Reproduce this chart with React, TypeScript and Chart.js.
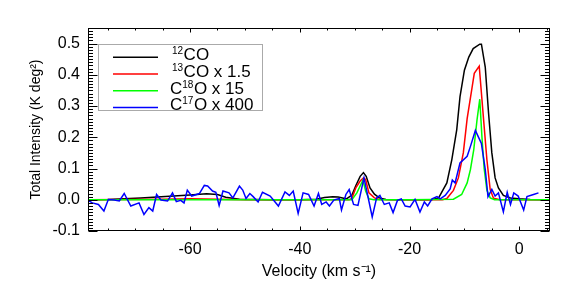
import React, { useEffect, useRef } from "react";
import { Chart, registerables } from "chart.js";

Chart.register(...registerables);

// ---- axis ranges & ticks ----
const X_MIN = -78.6;
const X_MAX = 5.6;
const Y_MIN = -0.1;
const Y_MAX = 0.55;
const xMajorTicks = [-60, -40, -20, 0];
const yMajorTicks = [-0.1, 0, 0.1, 0.2, 0.3, 0.4, 0.5];

// ---- series: 12CO ----
const co12Vel = [-78.6, -75, -72, -69, -66, -63, -60, -57, -55, -53.5, -51, -45, -40, -37, -35.5, -34, -33, -32, -31.5, -30.5, -29.8, -29.0, -28.4, -27.9, -27.2, -26.4, -25.5, -24.3, -22, -18, -16, -14.7, -13.2, -12.3, -11.4, -10.8, -10.0, -9.2, -8.4, -7.2, -6.9, -6.2, -5.6, -5.0, -4.4, -3.8, -2.9, -1.6, -0.1, 2, 5.6];
const co12Val = [0.0, 0.001, 0.003, 0.006, 0.009, 0.012, 0.015, 0.019, 0.017, 0.008, 0.002, 0.0, 0.0, 0.002, 0.007, 0.01, 0.009, 0.005, 0.003, 0.015, 0.045, 0.075, 0.087, 0.075, 0.038, 0.018, 0.006, 0.001, 0.0, 0.0, 0.0, 0.006, 0.054, 0.128, 0.224, 0.33, 0.415, 0.457, 0.484, 0.498, 0.498, 0.425, 0.278, 0.15, 0.07, 0.038, 0.014, 0.006, 0.003, 0.001, 0.0];

// ---- series: 13CO x 1.5 ----
const co13Vel = [-78.6, -65, -60, -55, -50, -40, -31, -30.5, -29.8, -29.0, -28.4, -28.0, -27.4, -26.4, -25.5, -20, -14, -13.2, -12, -11.1, -10.2, -9.5, -8.6, -8.2, -7.3, -6.5, -5.9, -5.3, -4.7, -3.5, 5.6];
const co13Val = [0, 0.002, 0.003, 0.002, 0, 0, 0, 0.004, 0.038, 0.06, 0.07, 0.065, 0.022, 0.006, 0.001, 0, 0, 0.004, 0.03, 0.07, 0.15, 0.26, 0.36, 0.405, 0.428, 0.256, 0.128, 0.033, 0.005, 0, 0];

// ---- series: C18O x 15 ----
const c18oVel = [-78.6, -40, -30.5, -29.6, -28.5, -28.0, -27.4, -26.5, -20, -12, -10.5, -9.5, -8.9, -8.3, -7.7, -7.2, -6.8, -6.4, -5.9, -5.3, -4.5, 5.6];
const c18oVal = [0, 0, 0, 0.022, 0.063, 0.028, 0.003, 0, 0, 0.002, 0.017, 0.054, 0.097, 0.16, 0.256, 0.322, 0.2, 0.1, 0.03, 0.006, 0, 0];

// ---- series: C17O x 400 ----
const c17oVel = [-78.7, -77.8, -76.7, -75.7, -74.9, -73.8, -72.9, -72.0, -70.8, -69.3, -68.4, -67.5, -66.8, -66.1, -65.3, -64.1, -63.2, -62.5, -61.7, -61.1, -60.5, -59.7, -58.3, -57.4, -56.8, -55.9, -55.3, -54.7, -54.0, -52.9, -52.2, -51.0, -50.4, -49.8, -49.1, -48.5, -47.6, -46.8, -45.4, -43.9, -42.7, -41.9, -41.2, -40.3, -39.4, -38.4, -37.4, -36.6, -36.0, -35.2, -34.6, -33.8, -32.8, -32.4, -31.6, -31.0, -30.2, -29.4, -28.3, -26.8, -26.0, -25.4, -24.6, -23.7, -23.0, -22.2, -21.5, -20.8, -19.9, -19.0, -18.1, -17.3, -16.7, -15.9, -15.0, -14.4, -13.5, -12.6, -12.2, -11.7, -10.8, -9.5, -8.9, -8.0, -7.5, -6.9, -6.2, -5.7, -5.0, -4.4, -3.8, -2.9, -2.2, -1.6, -1.0, -0.2, 0.8, 1.4, 2.6, 3.5];
const c17oVal = [-0.001, -0.01, -0.015, -0.036, 0.001, -0.001, -0.004, 0.02, -0.02, -0.01, -0.047, -0.025, -0.036, 0.017, -0.001, -0.004, 0.022, -0.006, -0.002, -0.01, 0.031, 0.012, 0.02, 0.046, 0.044, 0.028, 0.024, -0.018, 0.028, 0.022, 0.006, 0.044, 0.031, 0.004, 0.02, 0.01, -0.007, 0.024, 0.012, -0.02, 0.025, 0.014, 0.028, -0.044, 0.022, 0.017, -0.02, 0.02, -0.015, -0.007, -0.02, -0.001, 0.004, -0.033, 0.017, 0.033, -0.015, -0.018, 0.07, -0.055, 0.006, 0.014, -0.015, -0.01, -0.041, -0.002, 0.003, -0.02, -0.023, 0.001, -0.039, -0.007, -0.02, 0.003, 0.01, 0.003, 0.014, 0.035, 0.063, 0.054, 0.118, 0.139, 0.171, 0.222, 0.203, 0.18, 0.097, 0.01, 0.033, 0.012, 0.022, -0.039, 0.024, -0.015, 0.022, 0.012, -0.033, 0.01, 0.017, 0.022];

// ---- legend ----
const seriesColors = ["#000000", "#ff0000", "#00ff00", "#0000ff"];
// each label: list of [text, isSuperscript]
const legendLabels: [string, boolean][][] = [
  [["12", true], ["CO", false]],
  [["13", true], ["CO x 1.5", false]],
  [["C", false], ["18", true], ["O x 15", false]],
  [["C", false], ["17", true], ["O x 400", false]],
];

const FONT = "'Liberation Sans', Arial, Helvetica, sans-serif";

const toPoints = (vel: number[], val: number[]) => vel.map((v, i) => ({ x: v, y: val[i] }));

const idlAxesPlugin = {
  id: "idlAxes",
  afterDatasetsDraw(chart: any) {
    const { ctx, chartArea: ca, scales } = chart;
    const xs = scales.x;
    const ys = scales.y;
    ctx.save();
    ctx.strokeStyle = "#000";
    ctx.lineWidth = 1;
    const L = Math.round(ca.left) + 0.5;
    const R = Math.round(ca.right) - 0.5;
    const T = Math.round(ca.top) + 0.5;
    const B = Math.round(ca.bottom) - 0.5;
    ctx.strokeRect(L, T, R - L, B - T);
    ctx.beginPath();
    for (let v = -75; v <= 5; v += 5) {
      const px = Math.round(xs.getPixelForValue(v)) + 0.5;
      const len = v % 20 === 0 ? 4 : 2;
      ctx.moveTo(px, B); ctx.lineTo(px, B - len);
      ctx.moveTo(px, T); ctx.lineTo(px, T + len);
    }
    for (let k = -10; k <= 55; k++) {
      const py = Math.round(ys.getPixelForValue(k / 100)) + 0.5;
      const len = k % 10 === 0 ? 9 : 4.5;
      ctx.moveTo(L, py); ctx.lineTo(L + len, py);
      ctx.moveTo(R, py); ctx.lineTo(R - len, py);
    }
    ctx.stroke();
    ctx.restore();
  },
  afterDraw(chart: any) {
    const { ctx } = chart;
    ctx.save();
    const bx = 98.5, by = 44.5, bw = 164, bh = 66;
    ctx.fillStyle = "#ffffff";
    ctx.fillRect(bx, by, bw, bh);
    ctx.strokeStyle = "#aaaaaa";
    ctx.lineWidth = 1;
    ctx.strokeRect(bx, by, bw, bh);
    legendLabels.forEach((parts, i) => {
      const ly = 57.3 + i * 16.7;
      ctx.strokeStyle = seriesColors[i];
      ctx.lineWidth = 1.5;
      ctx.beginPath();
      ctx.moveTo(113, ly);
      ctx.lineTo(158, ly);
      ctx.stroke();
      let tx = parts[0][1] ? 172 : 170;
      const base = ly + 3;
      ctx.fillStyle = "#000";
      ctx.textBaseline = "alphabetic";
      ctx.textAlign = "left";
      parts.forEach(([t, sup]) => {
        ctx.font = sup ? `10px ${FONT}` : `17px ${FONT}`;
        ctx.fillText(t, tx, sup ? base - 6 : base);
        tx += ctx.measureText(t).width + (sup ? 0.5 : 0);
      });
    });
    ctx.restore();
  },
};

export default function App() {
  const ref = useRef<HTMLCanvasElement>(null);
  useEffect(() => {
    if (!ref.current) return;
    const tickFont = { family: FONT, size: 16 };
    const chart = new Chart(ref.current, {
      type: "line",
      data: {
        datasets: [
          { label: "12CO", data: toPoints(co12Vel, co12Val), borderColor: seriesColors[0], order: 4 },
          { label: "13CO x 1.5", data: toPoints(co13Vel, co13Val), borderColor: seriesColors[1], order: 3 },
          { label: "C18O x 15", data: toPoints(c18oVel, c18oVal), borderColor: seriesColors[2], order: 2 },
          { label: "C17O x 400", data: toPoints(c17oVel, c17oVal), borderColor: seriesColors[3], order: 1 },
        ].map((d) => ({ ...d, borderWidth: 1.5, pointRadius: 0, tension: 0, fill: false })),
      },
      options: {
        responsive: false,
        animation: false,
        devicePixelRatio: 1,
        layout: { padding: { left: 0, right: 26, top: 28, bottom: 0 } },
        plugins: { legend: { display: false }, tooltip: { enabled: false } },
        scales: {
          x: {
            type: "linear",
            min: X_MIN,
            max: X_MAX,
            afterFit: (s: any) => { s.height = 57; },
            afterBuildTicks: (s: any) => { s.ticks = xMajorTicks.map((v) => ({ value: v })); },
            grid: { display: false, drawTicks: false },
            border: { display: false },
            ticks: { padding: 9, font: tickFont, color: "#000", maxRotation: 0, autoSkip: false, callback: (v: any) => String(v) },
            title: { display: true, text: "Velocity (km s⁻¹)", font: { family: FONT, size: 16 }, color: "#000", padding: { top: 0, bottom: 7 } },
          },
          y: {
            type: "linear",
            min: Y_MIN,
            max: Y_MAX,
            afterFit: (s: any) => { s.width = 88; },
            afterBuildTicks: (s: any) => { s.ticks = yMajorTicks.map((v) => ({ value: v })); },
            grid: { display: false, drawTicks: false },
            border: { display: false },
            ticks: { padding: 8, font: tickFont, color: "#000", autoSkip: false, callback: (v: any) => Number(v).toFixed(1) },
            title: { display: true, text: "Total Intensity (K deg²)", font: { family: FONT, size: 14 }, color: "#000", padding: { top: 28, bottom: 0 } },
          },
        },
      },
      plugins: [idlAxesPlugin],
    } as any);
    return () => chart.destroy();
  }, []);
  return (
    <div style={{ position: "fixed", left: 0, top: 0, width: 576, height: 288, background: "#fff" }}>
      <canvas ref={ref} width={576} height={288} style={{ display: "block" }} />
    </div>
  );
}
